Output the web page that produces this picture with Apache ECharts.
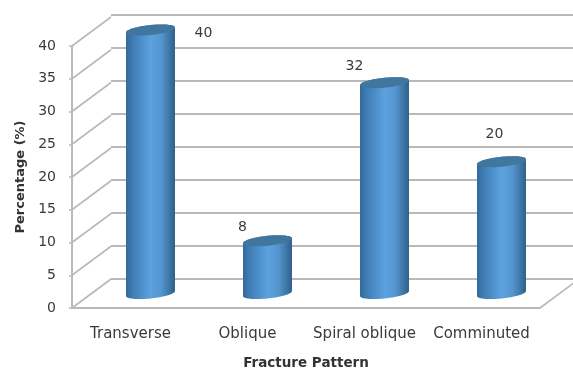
<!DOCTYPE html>
<html>
<head>
<meta charset="utf-8">
<style>html,body{margin:0;padding:0;background:#fff}#chart{width:573px;height:369px}</style>
<script src="https://cdn.jsdelivr.net/npm/echarts@6/dist/echarts.min.js"></script>
</head>
<body>
<div id="chart"></div>
<script>
// Fracture pattern percentages
const categories = ['Transverse', 'Oblique', 'Spiral oblique', 'Comminuted'];
const percentages = [40, 8, 32, 20];
const scaleTicks = [0, 5, 10, 15, 20, 25, 30, 35, 40];

// Drawing constants for the pseudo-3D box and the cylinders
const DEPTH_X = 39, DEPTH_Y = 29;
const labelShift = [[53, 3], [-25, -13], [-30, -16], [-7, -27]];
const FONT = '"DejaVu Sans", sans-serif';
const GRID_COLOR = '#b9b9b9';
const TEXT_COLOR = '#3a3a3a';

const cylinderFill = {
  type: 'linear', x: 0, y: 0, x2: 1, y2: 0,
  colorStops: [
    { offset: 0, color: '#34699a' },
    { offset: 0.14, color: '#3f7db5' },
    { offset: 0.5, color: '#5ca2df' },
    { offset: 0.72, color: '#5595d0' },
    { offset: 0.88, color: '#3f77a8' },
    { offset: 1, color: '#2f6089' }
  ]
};

// Point on a slightly sheared ellipse: right side sits higher than the left
function rimPoint(cx, cy, rx, ry, slope, t) {
  const dx = rx * Math.cos(t);
  return [cx + dx, cy + ry * Math.sin(t) - slope * dx];
}

function renderCylinder(params, api) {
  const i = params.dataIndex;
  const top = api.coord([i, api.value(1)]);
  const base = api.coord([i, 0]);
  const rx = 24.5, ry = 5, slope = 0.1, steps = 40;
  const shift = labelShift[i];

  const body = [];
  for (let k = 0; k <= steps; k++) {
    body.push(rimPoint(top[0], top[1], rx, ry, slope, -Math.PI * k / steps));
  }
  for (let k = 0; k <= steps; k++) {
    body.push(rimPoint(base[0], base[1], rx, ry, slope, Math.PI - Math.PI * k / steps));
  }
  const cap = [];
  for (let k = 0; k < steps * 2; k++) {
    cap.push(rimPoint(top[0], top[1], rx, ry, slope, Math.PI * k / steps));
  }
  return {
    type: 'group',
    children: [
      { type: 'polygon', shape: { points: body }, style: { fill: cylinderFill } },
      { type: 'polygon', shape: { points: cap }, style: { fill: '#41779f' } },
      { type: 'text', x: top[0] + shift[0], y: top[1] + shift[1],
        style: { text: String(api.value(1)), font: '14px ' + FONT, fill: TEXT_COLOR,
                 textAlign: 'center', textVerticalAlign: 'middle' } }
    ]
  };
}

// Receding edges of the side wall, one per tick, from the front plane to the back wall
function renderWallEdge(params, api) {
  const start = api.coord([0, api.value(0)]);
  const x = start[0] - api.size([1, 0])[0] / 2;
  return {
    type: 'line',
    shape: { x1: x, y1: start[1], x2: x + DEPTH_X, y2: start[1] - DEPTH_Y },
    style: { stroke: GRID_COLOR, lineWidth: 1.6 }
  };
}

// Right-hand edge of the floor
function renderFloorEdge(params, api) {
  const start = api.coord([categories.length - 1, 0]);
  const x = start[0] + api.size([1, 0])[0] / 2;
  return {
    type: 'line',
    shape: { x1: x, y1: start[1], x2: x + DEPTH_X, y2: start[1] - DEPTH_Y },
    style: { stroke: GRID_COLOR, lineWidth: 1.6 }
  };
}

const hiddenX = gridIndex => ({ type: 'category', data: categories, gridIndex: gridIndex, show: false });

const chart = echarts.init(document.getElementById('chart'), null, { renderer: 'canvas' });
chart.setOption({
  animation: false,
  backgroundColor: '#ffffff',
  grid: [
    { left: 72, top: 46, width: 468, height: 262, outerBoundsMode: 'none' },   // front plane: axes
    { left: 111, top: 15, width: 468, height: 264, outerBoundsMode: 'none' },  // back wall: gridlines
    { left: 92, top: 30, width: 468, height: 263.5, outerBoundsMode: 'none' }  // mid-depth plane: cylinders
  ],
  xAxis: [
    {
      type: 'category', data: categories, gridIndex: 0,
      name: 'Fracture Pattern', nameLocation: 'middle', nameGap: 48,
      nameTextStyle: { fontFamily: FONT, fontWeight: 'bold', fontSize: 13.5, color: '#333' },
      axisLine: { lineStyle: { color: GRID_COLOR, width: 2 } },
      axisTick: { show: false },
      axisLabel: { fontFamily: FONT, fontSize: 15, color: TEXT_COLOR, margin: 19, interval: 0 }
    },
    hiddenX(1),
    hiddenX(2)
  ],
  yAxis: [
    {
      type: 'value', gridIndex: 0, min: 0, max: 40, interval: 5,
      name: 'Percentage (%)', nameLocation: 'middle', nameGap: 45,
      nameTextStyle: { fontFamily: FONT, fontWeight: 'bold', fontSize: 13, color: '#333' },
      axisLine: { show: true, lineStyle: { color: GRID_COLOR, width: 2 } },
      axisTick: { show: true, length: 3, lineStyle: { color: GRID_COLOR, width: 1.5 } },
      axisLabel: { fontFamily: FONT, fontSize: 14, color: TEXT_COLOR, margin: 16, padding: [4, 0, 0, 0] },
      splitLine: { show: false }
    },
    {
      type: 'value', gridIndex: 1, min: 0, max: 40, interval: 5,
      axisLine: { show: false }, axisTick: { show: false }, axisLabel: { show: false },
      splitLine: { show: true, lineStyle: { color: GRID_COLOR, width: 2 } }
    },
    { type: 'value', gridIndex: 2, min: 0, max: 40, show: false }
  ],
  series: [
    {
      type: 'custom', name: 'Wall edges', xAxisIndex: 0, yAxisIndex: 0, z: 1, silent: true,
      clip: false, encode: { y: 0 }, data: scaleTicks.map(v => [v]), renderItem: renderWallEdge
    },
    {
      type: 'custom', name: 'Floor edge', xAxisIndex: 0, yAxisIndex: 0, z: 1, silent: true,
      clip: false, encode: { y: 0 }, data: [[0]], renderItem: renderFloorEdge
    },
    {
      type: 'custom', name: 'Percentage', xAxisIndex: 2, yAxisIndex: 2, z: 5, clip: false,
      encode: { x: 0, y: 1 }, data: percentages.map((v, i) => [i, v]), renderItem: renderCylinder
    }
  ]
});
</script>
</body>
</html>
